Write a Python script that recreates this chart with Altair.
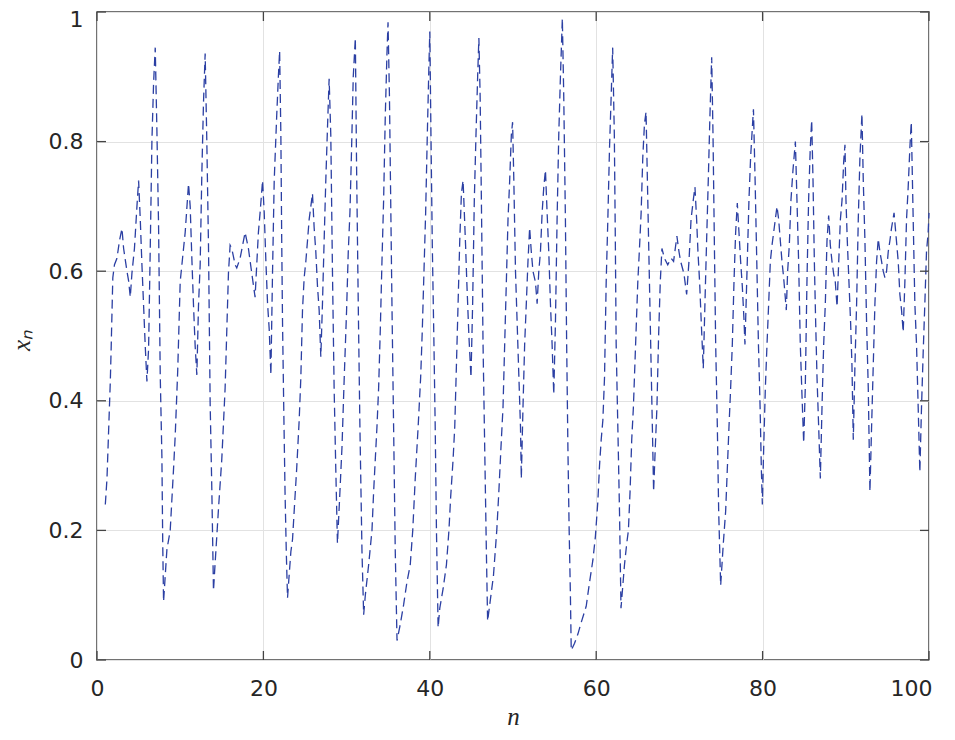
import altair as alt
import pandas as pd

n_vals = [
    1.0, 1.2, 1.6, 1.7, 1.9, 2.1, 2.4, 2.7, 3.0, 3.2, 3.6, 3.8, 4.0, 4.2, 4.5, 4.8,
    5.0, 5.2, 5.4, 5.6, 5.8, 6.0, 6.2, 6.4, 6.6, 6.8, 7.0, 7.2, 7.4, 7.6, 7.8, 7.9,
    8.0, 8.4, 8.8, 9.2, 9.4, 9.7, 10.0, 10.4, 10.6, 11.0, 11.2, 11.4, 11.6, 11.8,
    12.0, 12.2, 12.4, 12.6, 12.8, 13.0, 13.2, 13.4, 13.6, 13.8, 14.0, 14.2, 14.6,
    15.0, 15.4, 15.8, 16.0, 16.2, 16.6, 16.8, 17.2, 17.8, 18.2, 18.6, 19.0, 19.2,
    19.4, 19.6, 19.9, 20.1, 20.3, 20.5, 20.7, 20.9, 21.1, 21.3, 21.6, 21.8, 21.95,
    22.1, 22.2, 22.3, 22.45, 22.6, 22.75, 22.9, 23.3, 23.5, 23.7, 24.0, 24.3, 24.5,
    24.7, 24.9, 25.1, 25.3, 25.5, 25.7, 25.9, 26.1, 26.3, 26.5, 26.7, 26.9, 27.1,
    27.3, 27.5, 27.7, 27.9, 28.1, 28.3, 28.5, 28.7, 28.9, 29.2, 29.45, 29.7, 30.0,
    30.2, 30.4, 30.6, 30.8, 31.05, 31.2, 31.4, 31.6, 31.85, 32.05, 32.25, 32.65,
    33.05, 33.25, 33.45, 33.65, 33.85, 34.05, 34.25, 34.45, 34.65, 34.85, 34.98,
    35.15, 35.3, 35.45, 35.65, 35.85, 36.06, 36.45, 36.85, 37.25, 37.65, 37.95,
    38.25, 38.6, 38.9, 39.1, 39.3, 39.5, 39.7, 39.9, 40.0, 40.14, 40.3, 40.5, 40.65,
    40.8, 41.0, 41.2, 41.6, 42.0, 42.3, 42.5, 42.8, 43.0, 43.2, 43.4, 43.6, 43.8,
    44.0, 44.15, 44.3, 44.45, 44.7, 44.95, 45.15, 45.35, 45.55, 45.75, 45.9, 46.05,
    46.2, 46.4, 46.6, 46.8, 46.95, 47.25, 47.65, 48.05, 48.3, 48.55, 48.8, 49.0,
    49.2, 49.4, 49.6, 49.8, 49.95, 50.1, 50.3, 50.5, 50.7, 50.9, 51.0, 51.2, 51.4,
    51.6, 51.8, 52.0, 52.2, 52.4, 52.7, 52.9, 53.1, 53.3, 53.5, 53.7, 53.9, 54.1,
    54.3, 54.5, 54.7, 54.9, 55.1, 55.3, 55.5, 55.7, 55.93, 56.1, 56.3, 56.45, 56.6,
    56.75, 56.9, 57.0, 57.4, 57.8, 58.2, 58.8, 59.2, 59.6, 59.9, 60.2, 60.4, 60.6,
    60.8, 61.0, 61.2, 61.4, 61.6, 61.8, 61.98, 62.18, 62.3, 62.4, 62.6, 62.8, 62.98,
    63.2, 63.4, 63.67, 63.87, 64.07, 64.27, 64.47, 64.7, 65.0, 65.2, 65.4, 65.6,
    65.8, 65.99, 66.2, 66.4, 66.6, 66.75, 66.9, 67.1, 67.3, 67.5, 67.7, 67.9, 68.2,
    68.6, 69.0, 69.3, 69.7, 69.95, 70.15, 70.55, 70.87, 71.15, 71.4, 71.67, 71.87,
    72.07, 72.23, 72.43, 72.63, 72.87, 73.07, 73.27, 73.47, 73.67, 73.88, 74.04,
    74.2, 74.36, 74.56, 74.72, 74.96, 75.28, 75.56, 75.76, 75.96, 76.16, 76.36,
    76.56, 76.76, 76.96, 77.16, 77.36, 77.56, 77.76, 77.88, 78.16, 78.36, 78.56,
    78.76, 78.9, 79.1, 79.3, 79.5, 79.7, 79.85, 79.97, 80.13, 80.33, 80.53, 80.73,
    80.93, 81.13, 81.4, 81.73, 81.93, 82.13, 82.33, 82.53, 82.85, 83.01, 83.21,
    83.41, 83.65, 83.94, 84.13, 84.33, 84.53, 84.73, 84.94, 85.13, 85.33, 85.53,
    85.73, 85.9, 86.06, 86.22, 86.38, 86.54, 86.74, 86.94, 87.14, 87.34, 87.54,
    87.74, 87.94, 88.14, 88.34, 88.54, 88.74, 88.95, 89.15, 89.35, 89.55, 89.75,
    89.9, 90.02, 90.18, 90.38, 90.58, 90.74, 90.9, 91.1, 91.3, 91.5, 91.7, 91.94,
    92.1, 92.3, 92.5, 92.7, 92.9, 93.1, 93.3, 93.5, 93.7, 93.9, 94.1, 94.3, 94.5,
    94.7, 94.9, 95.1, 95.3, 95.5, 95.8, 96.0, 96.3, 96.5, 96.7, 96.9, 97.1, 97.3,
    97.5, 97.7, 97.87, 98.1, 98.3, 98.5, 98.7, 98.9, 99.1, 99.3, 99.5, 99.7, 99.9,
    100.0,
]

x_vals = [
    0.24, 0.28, 0.43, 0.48, 0.59, 0.61, 0.62, 0.647, 0.666, 0.635, 0.60, 0.585, 0.56, 0.597, 0.635, 0.70,
    0.74, 0.68, 0.61, 0.547, 0.484, 0.43, 0.48, 0.635, 0.80, 0.89, 0.945, 0.817, 0.67, 0.44, 0.314, 0.18,
    0.09, 0.17, 0.20, 0.295, 0.346, 0.446, 0.584, 0.635, 0.66, 0.735, 0.70, 0.62, 0.547, 0.484,
    0.44, 0.547, 0.61, 0.75, 0.86, 0.936, 0.80, 0.64, 0.396, 0.264, 0.107, 0.15, 0.233,
    0.31, 0.42, 0.597, 0.64, 0.635, 0.61, 0.605, 0.62, 0.66, 0.635, 0.597, 0.56, 0.61,
    0.66, 0.69, 0.74, 0.69, 0.615, 0.55, 0.51, 0.44, 0.60, 0.74, 0.84, 0.90, 0.94,
    0.81, 0.65, 0.52, 0.385, 0.26, 0.167, 0.096, 0.167, 0.186, 0.23, 0.295, 0.37, 0.436,
    0.54, 0.59, 0.615, 0.647, 0.68, 0.70, 0.72, 0.667, 0.63, 0.577, 0.54, 0.468, 0.55,
    0.647, 0.74, 0.82, 0.897, 0.81, 0.60, 0.42, 0.295, 0.18, 0.26, 0.33, 0.43, 0.54,
    0.63, 0.69, 0.79, 0.90, 0.96, 0.76, 0.55, 0.36, 0.167, 0.07, 0.10, 0.147,
    0.20, 0.26, 0.31, 0.36, 0.42, 0.51, 0.615, 0.71, 0.84, 0.935, 0.984,
    0.87, 0.71, 0.55, 0.36, 0.167, 0.03, 0.055, 0.085, 0.12, 0.147, 0.20,
    0.28, 0.36, 0.436, 0.51, 0.60, 0.69, 0.81, 0.92, 0.97, 0.81, 0.64, 0.487, 0.36,
    0.20, 0.05, 0.08, 0.11, 0.147, 0.20, 0.25, 0.31, 0.36, 0.455, 0.55, 0.647, 0.72,
    0.74, 0.69, 0.64, 0.583, 0.50, 0.436, 0.55, 0.71, 0.81, 0.90, 0.96, 0.87,
    0.71, 0.487, 0.327, 0.167, 0.06, 0.09, 0.13, 0.20, 0.26, 0.327, 0.39, 0.487,
    0.583, 0.68, 0.74, 0.81, 0.83, 0.74, 0.60, 0.52, 0.44, 0.36, 0.28, 0.39, 0.487,
    0.55, 0.615, 0.667, 0.63, 0.60, 0.583, 0.55, 0.60, 0.63, 0.69, 0.73, 0.756, 0.69,
    0.63, 0.55, 0.487, 0.41, 0.52, 0.68, 0.81, 0.90, 0.99, 0.87, 0.68, 0.487, 0.327,
    0.20, 0.10, 0.015, 0.026, 0.04, 0.058, 0.083, 0.12, 0.154, 0.19, 0.245, 0.30, 0.34,
    0.37, 0.436, 0.583, 0.68, 0.79, 0.87, 0.945, 0.81, 0.647, 0.487, 0.36, 0.23, 0.08,
    0.115, 0.147, 0.18, 0.20, 0.26, 0.34, 0.39, 0.474, 0.583, 0.635, 0.69, 0.776,
    0.827, 0.846, 0.71, 0.583, 0.455, 0.36, 0.26, 0.327, 0.39, 0.50, 0.583, 0.635, 0.62,
    0.61, 0.62, 0.615, 0.654, 0.63, 0.615, 0.596, 0.564, 0.615, 0.68, 0.71, 0.73,
    0.68, 0.63, 0.583, 0.52, 0.45, 0.55, 0.647, 0.74, 0.84, 0.93, 0.81,
    0.647, 0.487, 0.36, 0.23, 0.115, 0.18, 0.23, 0.295, 0.36, 0.42, 0.487,
    0.583, 0.66, 0.705, 0.66, 0.615, 0.577, 0.526, 0.487, 0.615, 0.71, 0.776,
    0.82, 0.85, 0.74, 0.615, 0.487, 0.39, 0.295, 0.24, 0.327, 0.42, 0.487, 0.55,
    0.615, 0.64, 0.667, 0.70, 0.68, 0.647, 0.615, 0.59, 0.54, 0.60, 0.64,
    0.71, 0.756, 0.80, 0.71, 0.615, 0.487, 0.41, 0.335, 0.42, 0.583, 0.71,
    0.79, 0.833, 0.74, 0.615, 0.52, 0.436, 0.36, 0.28, 0.39, 0.487, 0.55,
    0.647, 0.686, 0.64, 0.615, 0.596, 0.583, 0.545, 0.615, 0.68, 0.71, 0.77,
    0.795, 0.71, 0.647, 0.583, 0.52, 0.455, 0.34, 0.455, 0.55, 0.68, 0.776, 0.843,
    0.74, 0.647, 0.52, 0.42, 0.26, 0.36, 0.455, 0.55, 0.615, 0.65, 0.63, 0.615, 0.60,
    0.59, 0.60, 0.63, 0.647, 0.667, 0.69, 0.66, 0.615, 0.564, 0.54, 0.506, 0.583, 0.68,
    0.73, 0.79, 0.83, 0.68, 0.55, 0.487, 0.39, 0.29, 0.39, 0.474, 0.55, 0.63, 0.66,
    0.69,
]

x_ticks = [0, 20, 40, 60, 80, 100]
y_ticks = [0, 0.2, 0.4, 0.6, 0.8, 1.0]

W, H = 832, 648
TICK = 9
FRAME = "#444444"
TXT = "#262626"

df = pd.DataFrame({"n": n_vals, "x": x_vals})
xt = pd.DataFrame({"n": x_ticks})
yt = pd.DataFrame({"x": y_ticks})

xs = alt.Scale(domain=[0, 100], nice=False, zero=False)
ys = alt.Scale(domain=[0, 1], nice=False, zero=False)

common_axis = dict(
    grid=True,
    gridColor="#e2e2e2",
    gridWidth=1,
    domain=False,
    ticks=False,
    labelFlush=False,
    labelFont="DejaVu Sans",
    labelFontSize=22,
    labelColor=TXT,
    titleFont="Liberation Serif",
    titleFontStyle="italic",
    titleFontWeight="normal",
    titleFontSize=25,
    titleColor=TXT,
)

x_axis = alt.Axis(
    values=x_ticks,
    title="n",
    labelPadding=18,
    labelAlign={"condition": {"test": "datum.value >= 100", "value": "right"}, "value": "center"},
    labelOffset={"condition": {"test": "datum.value >= 100", "value": 3}, "value": 0},
    titleX=416,
    titleY=69,
    titleAlign="center",
    titleBaseline="bottom",
    **common_axis,
)
y_axis = alt.Axis(
    values=y_ticks,
    format=".1~f",
    title="xₙ",
    labelPadding=14,
    labelOffset={"condition": {"test": "datum.value >= 1", "value": 7}, "value": 0},
    titleX=-76,
    titleY=328,
    titleAngle=270,
    titleAlign="center",
    titleBaseline="middle",
    **common_axis,
)

line = alt.Chart(df).mark_line(
    strokeDash=[9, 5], strokeWidth=1.3, color="#2b3fa3"
).encode(
    x=alt.X("n:Q", scale=xs, axis=x_axis),
    y=alt.Y("x:Q", scale=ys, axis=y_axis),
)

rule_style = dict(color=FRAME, strokeWidth=1.3)

bottom_ticks = alt.Chart(xt).mark_rule(**rule_style).encode(
    x=alt.X("n:Q", scale=xs, axis=x_axis), y=alt.value(H - TICK), y2=alt.value(H)
)
top_ticks = alt.Chart(xt).mark_rule(**rule_style).encode(
    x=alt.X("n:Q", scale=xs, axis=x_axis), y=alt.value(0), y2=alt.value(TICK)
)
left_ticks = alt.Chart(yt).mark_rule(**rule_style).encode(
    y=alt.Y("x:Q", scale=ys, axis=y_axis), x=alt.value(0), x2=alt.value(TICK)
)
right_ticks = alt.Chart(yt).mark_rule(**rule_style).encode(
    y=alt.Y("x:Q", scale=ys, axis=y_axis), x=alt.value(W - TICK), x2=alt.value(W)
)

chart = alt.layer(line, bottom_ticks, top_ticks, left_ticks, right_ticks).properties(
    width=W,
    height=H,
    autosize=alt.AutoSizeParams(type="none"),
    padding={"left": 89, "top": 4, "right": 10, "bottom": 70},
    background="white",
).configure_view(
    stroke=FRAME, strokeWidth=1.5
)

chart.save("out.html", embed_options={"renderer": "svg", "actions": False})
